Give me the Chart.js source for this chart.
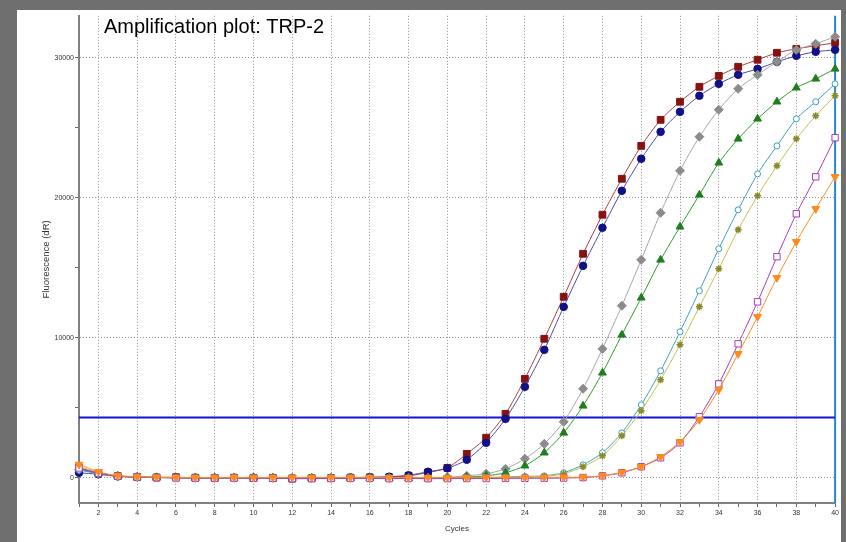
<!DOCTYPE html>
<html>
<head>
<meta charset="utf-8">
<script src="https://cdn.jsdelivr.net/npm/chart.js@4/dist/chart.umd.min.js"></script>
<style>
  html, body { margin: 0; padding: 0; background: #6f6f6f; width: 846px; height: 542px; overflow: hidden; }
  #frame { position: absolute; left: 17px; top: 10px; width: 824px; height: 532px; background: #fff; }
  canvas { display: block; }
</style>
</head>
<body>
<div id="frame"><canvas id="amp" width="824" height="532"></canvas></div>
<script>
const chartTitle = 'Amplification plot: TRP-2';
const xTitle = 'Cycles';
const yTitle = 'Fluorescence (dR)';

const cycles = [1,2,3,4,5,6,7,8,9,10,11,12,13,14,15,16,17,18,19,20,
  21,22,23,24,25,26,27,28,29,30,31,32,33,34,35,36,37,38,39,40];

const yTicks = [0, 5000, 10000, 15000, 20000, 25000, 30000];
const threshold = 4300;

const redSeries = [700,350,120,60,20,40,0,-10,10,-20,0,-60,-30,-20,10,30,40,140,380,710,
  1710,2860,4570,7070,9930,12930,16000,18790,21360,23710,25570,26860,27930,28710,29360,29860,30360,30640,30860,31070];
const blueSeries = [360,250,100,50,30,20,10,0,0,10,-10,-20,-10,0,20,40,80,180,430,680,
  1290,2500,4210,6500,9140,12210,15140,17860,20500,22790,24710,26140,27290,28140,28790,29210,29710,30140,30430,30570];
const graySeries = [600,300,120,60,30,10,0,-10,0,10,-10,-20,0,-10,0,-20,-10,0,0,40,
  140,290,640,1360,2430,4000,6360,9210,12290,15570,18930,21930,24360,26290,27790,28790,29710,30570,31000,31500];
const greenSeries = [650,320,130,60,30,10,-10,0,-20,0,-10,-30,-20,-30,-20,-30,-40,-40,-60,-20,
  50,140,360,860,1790,3210,5140,7500,10210,12860,15570,17930,20210,22500,24210,25640,26860,27860,28500,29210];
const tealSeries = [550,300,120,60,20,0,-10,0,-10,0,-20,-20,-10,-20,-20,-10,-20,-10,-20,-10,
  0,20,60,100,140,360,930,1790,3210,5210,7640,10430,13360,16360,19140,21710,23710,25640,26860,28140];
const oliveSeries = [800,380,140,70,30,20,0,-10,-20,-10,-20,-30,-20,-20,-10,-30,-20,-20,-10,-20,
  -10,0,20,50,100,290,790,1570,3000,4790,7000,9500,12210,14930,17710,20140,22290,24210,25860,27290];
const purpleSeries = [700,330,120,60,20,-10,-20,-20,-20,-30,-30,-60,-60,-50,-40,-40,-60,-50,-60,-60,
  -50,-50,-40,-40,-30,-20,20,140,360,790,1430,2500,4360,6710,9570,12570,15790,18860,21500,24290];
const orangeSeries = [950,430,150,80,40,20,20,20,30,20,30,30,30,30,30,20,20,10,10,10,
  10,20,20,20,30,40,50,140,400,790,1500,2570,4140,6290,8860,11500,14290,16860,19210,21500];

const toPoints = vals => cycles.map((c, i) => ({ x: c, y: vals[i] }));

function series(label, vals, line, fill, style, extra) {
  return Object.assign({
    label: label,
    data: toPoints(vals),
    borderColor: line,
    backgroundColor: fill,
    pointBorderColor: line,
    pointBackgroundColor: fill,
    pointStyle: style,
    pointRadius: 3.5,
    pointBorderWidth: 1,
    borderWidth: 1,
    tension: 0.25,
    clip: 6
  }, extra || {});
}

const datasets = [
  series('orange', orangeSeries, '#ff8a1c', '#ff8a1c', 'triangle', { rotation: 180, pointRadius: 4.5 }),
  series('purple', purpleSeries, '#a53cb8', '#ffffff', 'rect', { pointRadius: 4.5 }),
  series('olive', oliveSeries, '#c9bf4c', '#8a8a2c', 'star', { pointBorderColor: '#8a8a2c', pointBorderWidth: 1.5 }),
  series('teal', tealSeries, '#3c9fba', '#ffffff', 'circle', { pointRadius: 3 }),
  series('green', greenSeries, '#2e9a2e', '#1f7d1f', 'triangle', { pointRadius: 4.5, pointBorderColor: '#1f7d1f' }),
  series('gray', graySeries, '#a6a6a6', '#8c8c8c', 'rectRot', { pointRadius: 4.5, pointBorderColor: '#8c8c8c' }),
  series('blue', blueSeries, '#4a4aa8', '#101088', 'circle', { pointRadius: 3.8, pointBorderColor: '#101088' }),
  series('red', redSeries, '#a84040', '#861212', 'rect', { pointRadius: 4.8, pointBorderColor: '#861212' }),
  {
    label: 'threshold',
    data: [{ x: cycles[0], y: threshold }, { x: cycles[cycles.length - 1], y: threshold }],
    borderColor: '#1414d8', borderWidth: 2, pointRadius: 0, tension: 0
  },
  {
    label: 'end',
    data: [{ x: 40, y: -1800 }, { x: 40, y: 33000 }],
    borderColor: '#2288cc', borderWidth: 2, pointRadius: 0, tension: 0, clip: 6
  }
];

const textPlugin = {
  id: 'texts',
  afterDraw(chart) {
    const { ctx, chartArea } = chart;
    ctx.save();
    ctx.fillStyle = '#000';
    ctx.font = '20px "Liberation Sans", Arial, sans-serif';
    ctx.textAlign = 'left';
    ctx.textBaseline = 'alphabetic';
    ctx.fillText(chartTitle, 87, 23);

    ctx.fillStyle = '#333';
    ctx.font = '8px "Liberation Sans", Arial, sans-serif';
    ctx.textAlign = 'center';
    ctx.textBaseline = 'middle';
    ctx.fillText(xTitle, (chartArea.left + chartArea.right) / 2, 519);

    ctx.translate(29, (chartArea.top + chartArea.bottom) / 2);
    ctx.rotate(-Math.PI / 2);
    ctx.font = '9.5px "Liberation Sans", Arial, sans-serif';
    ctx.fillText(yTitle, 0, 0);
    ctx.restore();
  }
};

const gridDash = [1, 2];

new Chart(document.getElementById('amp').getContext('2d'), {
  type: 'line',
  data: { datasets: datasets },
  options: {
    responsive: false,
    animation: false,
    devicePixelRatio: 1,
    layout: { padding: { top: 5, right: 5, left: 0, bottom: 0 } },
    plugins: { legend: { display: false }, tooltip: { enabled: false } },
    scales: {
      x: {
        type: 'linear',
        min: 1,
        max: 40,
        afterFit: s => { s.height = 39; },
        ticks: {
          stepSize: 1,
          autoSkip: false,
          maxRotation: 0,
          padding: 2,
          color: '#333',
          font: { size: 7, family: '"Liberation Sans", Arial, sans-serif' },
          callback: v => (v % 2 === 0 ? String(v) : '')
        },
        grid: {
          color: c => (c.tick && c.tick.value % 2 === 0 && c.tick.value < 40 ? '#909090' : 'rgba(0,0,0,0)'),
          tickColor: '#666',
          tickLength: 4,
          lineWidth: 1
        },
        border: { display: true, color: '#808080', width: 2, dash: gridDash }
      },
      y: {
        type: 'linear',
        min: -1800,
        max: 33000,
        afterFit: s => { s.width = 62; },
        afterBuildTicks: s => { s.ticks = yTicks.map(v => ({ value: v })); },
        ticks: {
          padding: 1,
          color: '#333',
          font: { size: 7, family: '"Liberation Sans", Arial, sans-serif' },
          callback: v => (v % 10000 === 0 ? String(v) : '')
        },
        grid: {
          color: c => (c.tick && c.tick.value % 10000 === 0 ? '#909090' : 'rgba(0,0,0,0)'),
          tickColor: '#666',
          tickLength: 4,
          lineWidth: 1
        },
        border: { display: true, color: '#808080', width: 2, dash: gridDash }
      }
    }
  },
  plugins: [textPlugin]
});
</script>
</body>
</html>
